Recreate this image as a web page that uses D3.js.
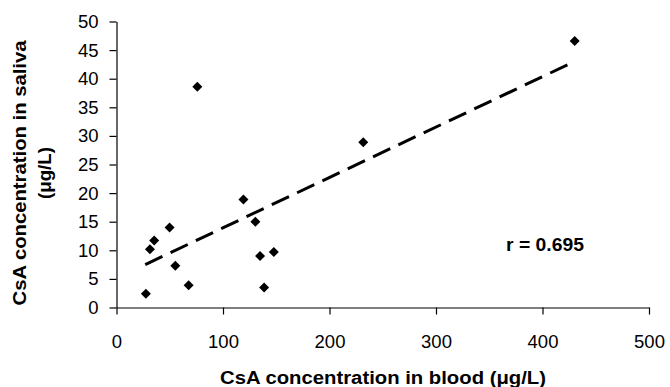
<!DOCTYPE html>
<html>
<head>
<meta charset="utf-8">
<script src="https://cdn.jsdelivr.net/npm/d3@7"></script>
<style>
  body { margin: 0; background: #fff; }
  svg { display: block; font-family: "Liberation Sans", Arial, sans-serif; }
</style>
</head>
<body>
<div id="chart"></div>
<script>
// data
const bloodConc = [27.6, 31.4, 35.4, 49.8, 55.2, 67.7, 75.9, 119.2, 130.4, 134.8, 138.6, 147.7, 231.7, 430.2];
const salivaConc = [2.4, 10.2, 11.7, 14.0, 7.3, 3.9, 38.6, 18.9, 15.0, 9.0, 3.5, 9.7, 28.9, 46.6];
const trendX = [27, 430];
const trendY = [7.5, 43.0];
const xTicks = [0, 100, 200, 300, 400, 500];
const yTicks = [0, 5, 10, 15, 20, 25, 30, 35, 40, 45, 50];
const rLabel = "r = 0.695";

const W = 670, H = 387;
const margin = { top: 21.5, right: 21, bottom: 79.5, left: 116.5 };

const svg = d3.select("#chart").append("svg")
  .attr("width", W)
  .attr("height", H);

const x = d3.scaleLinear().domain([0, 500]).range([margin.left, W - margin.right]);
const y = d3.scaleLinear().domain([0, 50]).range([H - margin.bottom, margin.top]);

// axes
const xAxis = svg.append("g")
  .attr("transform", `translate(0,${y(0)})`)
  .call(d3.axisBottom(x).tickValues(xTicks).tickSize(7).tickPadding(20).tickSizeOuter(0));

const yAxis = svg.append("g")
  .attr("transform", `translate(${x(0)},0)`)
  .call(d3.axisLeft(y).tickValues(yTicks).tickSize(7).tickPadding(11).tickSizeOuter(0));

[xAxis, yAxis].forEach(g => {
  g.select(".domain").attr("stroke", "#000").attr("stroke-width", 1.2);
  g.selectAll(".tick line").attr("stroke", "#000").attr("stroke-width", 1.2);
  g.selectAll(".tick text")
    .attr("fill", "#000")
    .style("font-family", "'Liberation Sans', Arial, sans-serif")
    .style("font-size", "18.5px");
});

// trend line
svg.append("line")
  .attr("x1", x(trendX[0]))
  .attr("y1", y(trendY[0]))
  .attr("x2", x(trendX[1]))
  .attr("y2", y(trendY[1]))
  .attr("stroke", "#000")
  .attr("stroke-width", 3)
  .attr("stroke-dasharray", "19,9");

// diamond markers
const pts = bloodConc.map((b, i) => ({ b: b, s: salivaConc[i] }));
svg.selectAll(".pt")
  .data(pts)
  .enter()
  .append("path")
  .attr("class", "pt")
  .attr("d", "M0,-5L5,0L0,5L-5,0Z")
  .attr("transform", d => `translate(${x(d.b)},${y(d.s)})`)
  .attr("fill", "#000");

// r label
svg.append("text")
  .attr("x", 506)
  .attr("y", 251)
  .attr("font-size", "17.5px")
  .attr("font-weight", "bold")
  .attr("textLength", 78)
  .attr("lengthAdjust", "spacingAndGlyphs")
  .text(rLabel);

// axis titles
svg.append("text")
  .attr("x", 383)
  .attr("y", 384)
  .attr("text-anchor", "middle")
  .attr("font-size", "17.5px")
  .attr("font-weight", "bold")
  .attr("textLength", 326)
  .attr("lengthAdjust", "spacingAndGlyphs")
  .text("CsA concentration in blood (\u03bcg/L)");

const yTitle = svg.append("text")
  .attr("transform", "translate(25.5,173) rotate(-90)")
  .attr("text-anchor", "middle")
  .attr("font-size", "17.5px")
  .attr("font-weight", "bold");
yTitle.append("tspan").attr("x", 0).attr("y", 0)
  .attr("textLength", 265).attr("lengthAdjust", "spacingAndGlyphs")
  .text("CsA concentration in saliva");
yTitle.append("tspan").attr("x", 0).attr("y", 25)
  .attr("textLength", 52).attr("lengthAdjust", "spacingAndGlyphs")
  .text("(\u03bcg/L)");
</script>
</body>
</html>
